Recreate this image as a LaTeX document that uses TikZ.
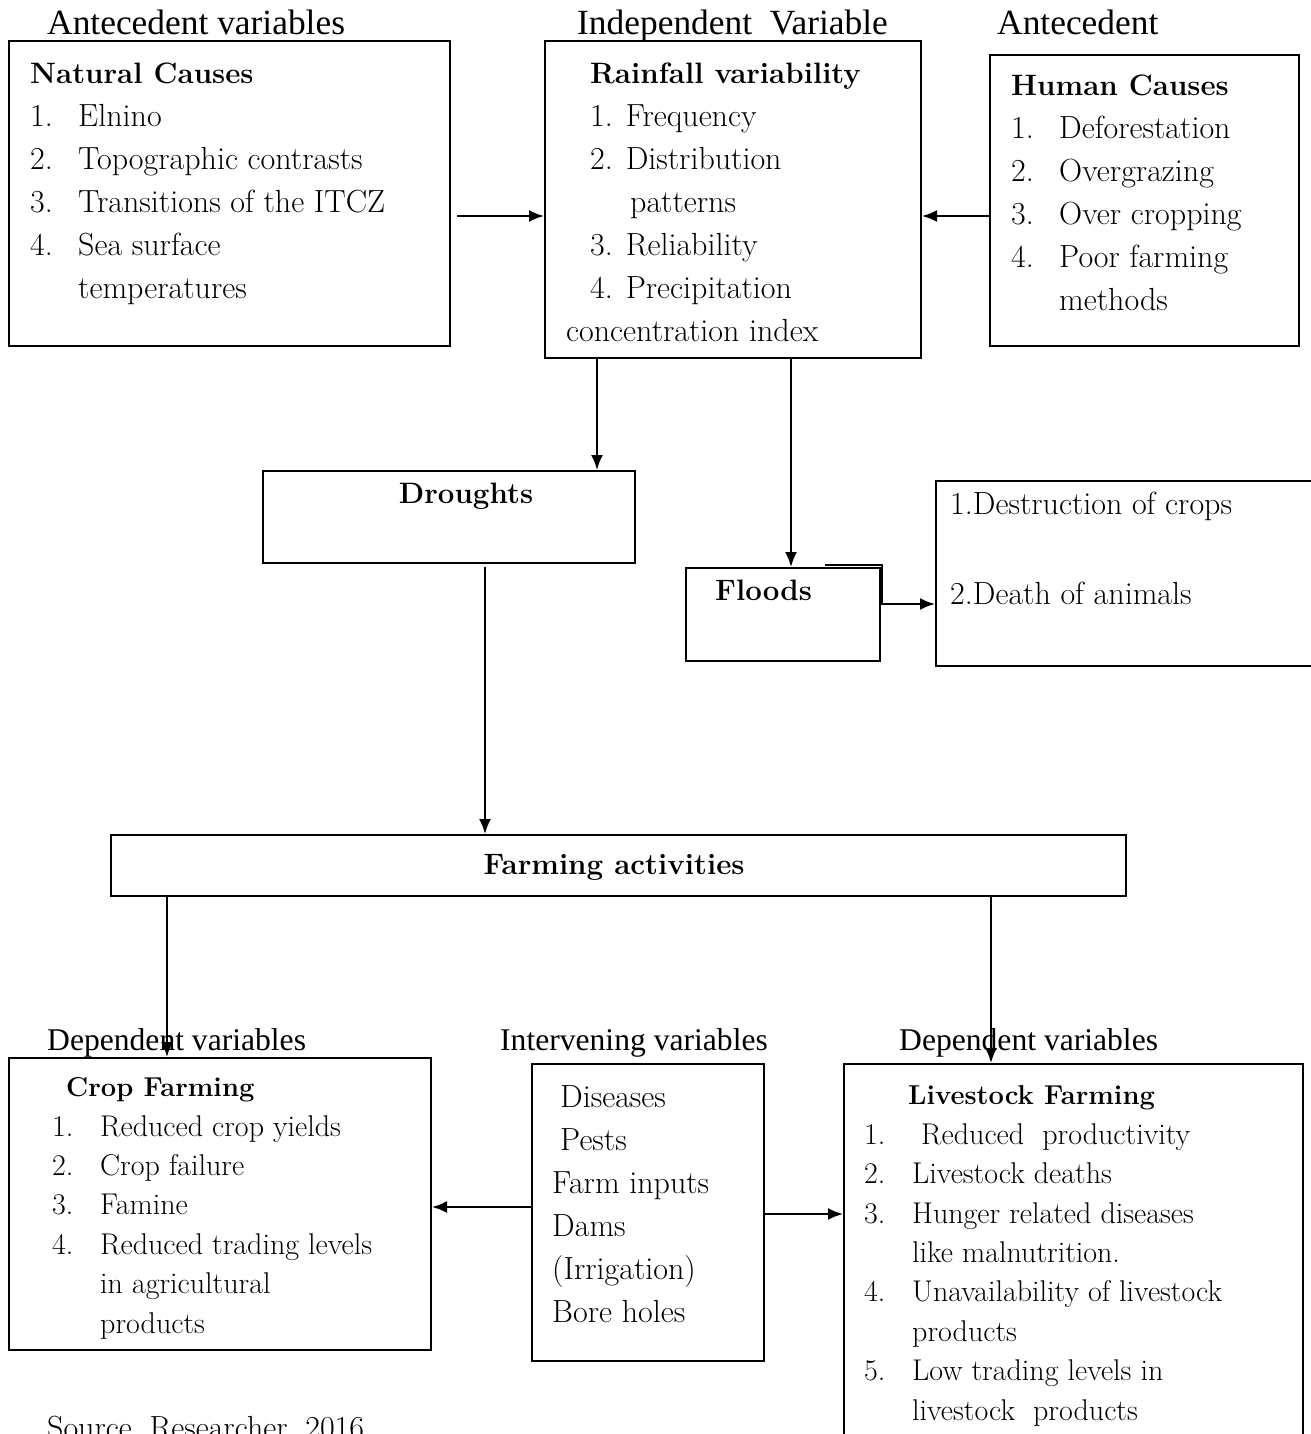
\documentclass[tikz,border=0pt]{standalone}
\usepackage{fontspec}
\newfontfamily\timesfont{Liberation Serif}
\usetikzlibrary{arrows.meta}
\newcommand{\itm}[2]{\makebox[48pt][l]{#1}#2}
\newcommand{\bodyfont}{\fontsize{32}{43}\selectfont}
\newcommand{\smallbody}{\fontsize{30}{39.4}\selectfont}
\newcommand{\headfont}{\fontsize{29.5}{43}\selectfont\bfseries}
\newcommand{\smallhead}{\fontsize{27.3}{39.4}\selectfont\bfseries}
\newcommand{\lblfont}{\timesfont\fontsize{35.4}{40}\selectfont}
\newcommand{\smalllbl}{\timesfont\fontsize{31.6}{36}\selectfont}

\begin{document}
\begin{tikzpicture}[x = 1pt, y = -1pt,
        box/.style = {draw, line width = 2pt, inner sep = 0pt, anchor = north west},
        txt/.style = {align = left, inner sep = 0pt, anchor = base west, font = \bodyfont},
        lbl/.style = {inner sep = 0pt, anchor = base west, font = \lblfont},
        arrow/.style = {line width = 2pt, -{Latex[length = 15pt, width = 12pt]}}]
        \useasboundingbox (0, 0) rectangle (1310, 1434);

        \node[box, minimum width = 441pt, minimum height = 305pt] (natural) at (8, 40) {};
        \node[box, minimum width = 376pt, minimum height = 317pt] (rainfall) at (544, 40) {};
        \node[box, minimum width = 309pt, minimum height = 291pt] (human) at (989, 54) {};
        \node[box, minimum width = 372pt, minimum height = 92pt] (droughts) at (262, 470) {};
        \node[box, minimum width = 194pt, minimum height = 93pt] (floods) at (685, 567) {};
        \node[box, minimum width = 385pt, minimum height = 185pt] (effects) at (935, 480) {};
        \node[box, minimum width = 1015pt, minimum height = 61pt] (farming) at (110, 834) {};
        \node[box, minimum width = 422pt, minimum height = 292pt] (crop) at (8, 1057) {};
        \node[box, minimum width = 232pt, minimum height = 297pt] (intervening) at (531, 1063) {};
        \node[box, minimum width = 459pt, minimum height = 387pt] (livestock) at (843, 1063) {};

        \node[lbl] (lblnatural) at (47, 35) {Antecedent variables};
        \node[lbl] (lblrainfall) at (577, 35) {Independent\ \ Variable};
        \node[lbl] (lblhuman) at (997, 35) {Antecedent};
        \node[lbl, font = \smalllbl] (lblcrop) at (47, 1050) {Dependent variables};
        \node[lbl, font = \smalllbl] (lblintervening) at (500, 1050) {Intervening variables};
        \node[lbl, font = \smalllbl] (lbllivestock) at (899, 1050) {Dependent variables};

        \node[txt] (naturaltext) at (30, 298) {{\headfont Natural Causes}\\
            \itm{1.}{Elnino}\\ \itm{2.}{Topographic contrasts}\\
            \itm{3.}{Transitions of the ITCZ}\\ \itm{4.}{Sea surface}\\
            \itm{}{temperatures}};
        \node[txt] (rainfalltext) at (566, 341) {\hspace*{24pt}{\headfont Rainfall variability}\\
            \hspace*{24pt}1. Frequency\\ \hspace*{24pt}2. Distribution\\
            \hspace*{64pt}patterns\\ \hspace*{24pt}3. Reliability\\
            \hspace*{24pt}4. Precipitation\\ concentration index};
        \node[txt] (humantext) at (1011, 310) {{\headfont Human Causes}\\
            \itm{1.}{Deforestation}\\ \itm{2.}{Overgrazing}\\
            \itm{3.}{Over cropping}\\ \itm{4.}{Poor farming}\\ \itm{}{methods}};
        \node[inner sep = 0pt, anchor = base, font = \headfont] (droughtstext) at (466, 503) {Droughts};
        \node[txt, font = \headfont] (floodstext) at (715, 600) {Floods};
        \node[txt, font = \fontsize{32}{45}\selectfont] (effectstext) at (950, 604)
            {1.Destruction of crops\\ \\ 2.Death of animals};
        \node[inner sep = 0pt, anchor = base, font = \headfont] (farmingtext) at (614, 874) {Farming activities};
        \node[txt, font = \smallbody] (croptext) at (52, 1333) {\hspace*{14pt}{\smallhead Crop Farming}\\
            \itm{1.}{Reduced crop yields}\\ \itm{2.}{Crop failure}\\
            \itm{3.}{Famine}\\ \itm{4.}{Reduced trading levels}\\
            \itm{}{in agricultural}\\ \itm{}{products}};
        \node[txt] (interveningtext) at (552, 1322) {\hspace*{8pt}Diseases\\ \hspace*{8pt}Pests\\
            Farm inputs\\ Dams\\ (Irrigation)\\ Bore holes};
        \node[txt, font = \smallbody] (livestocktext) at (864, 1420) {\hspace*{44pt}{\smallhead Livestock Farming}\\
            \itm{1.}{\ Reduced\ \ productivity}\\ \itm{2.}{Livestock deaths}\\
            \itm{3.}{Hunger related diseases}\\ \itm{}{like malnutrition.}\\
            \itm{4.}{Unavailability of livestock}\\ \itm{}{products}\\
            \itm{5.}{Low trading levels in}\\ \itm{}{livestock\ \ products}};
        \node[txt] (source) at (47, 1438) {Source, Researcher, 2016.};

        \draw[arrow] ([xshift = 6pt, yshift = -22.5pt]natural.east) -- ([yshift = -16.5pt]rainfall.west);
        \draw[arrow] ([yshift = -15.5pt]human.west) -- ([yshift = -16.5pt]rainfall.east);
        \draw[arrow] ([xshift = -136pt]rainfall.south) -- ([xshift = 148pt]droughts.north);
        \draw[arrow] ([xshift = 58pt]rainfall.south) -- ([xshift = 8pt]floods.north);
        \draw[arrow] ([xshift = 42pt, yshift = 2pt]floods.north) -| ([xshift = 1pt, yshift = 10.5pt]floods.east)
            -- ([yshift = -30.5pt]effects.west);
        \draw[arrow] ([xshift = 36pt, yshift = -3pt]droughts.south) -- ([xshift = -133.5pt]farming.north);
        \draw[arrow] ([xshift = -451.5pt]farming.south) -- ([xshift = -53pt]crop.north);
        \draw[arrow] ([xshift = 372.5pt]farming.south) -- ([xshift = -82.5pt]livestock.north);
        \draw[arrow] ([yshift = 5.5pt]intervening.west) -- ([yshift = -3pt]crop.east);
        \draw[arrow] ([yshift = -1.5pt]intervening.east) -- ([yshift = 43.5pt]livestock.west);
    \end{tikzpicture}
\end{document}
